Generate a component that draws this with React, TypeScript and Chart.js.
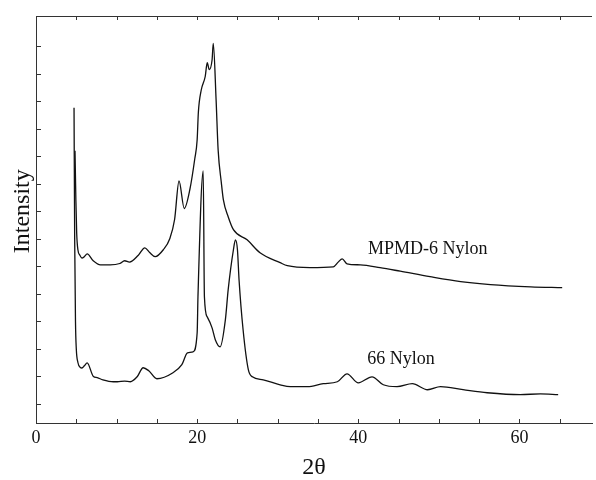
import React, { useEffect, useRef } from "react";
import { Chart, registerables } from "chart.js";

Chart.register(...registerables);

// 2θ (degrees) / intensity (arbitrary units)
const mpmdX = [4.84, 4.95, 5.05, 5.2, 5.45, 5.7, 6.0, 6.35, 7.1, 8.0, 9.2, 10.4, 11.0, 11.6, 12.7, 13.5, 14.1, 14.8, 15.8, 16.6, 17.2, 17.75, 18.4, 19.1, 19.7, 20.0, 20.15, 20.5, 21.0, 21.25, 21.5, 21.85, 22.0, 22.35, 22.6, 23.0, 23.25, 23.85, 24.5, 26.2, 27.8, 30.3, 31.2, 34.0, 36.9, 37.5, 38.0, 38.6, 40.25, 42.7, 45.2, 48.9, 52.7, 56.4, 61.4, 65.3];
const mpmdY = [9.2, 7.4, 6.2, 5.6, 5.4, 5.3, 5.35, 5.45, 5.2, 5.05, 5.05, 5.1, 5.2, 5.15, 5.4, 5.67, 5.5, 5.35, 5.6, 6.0, 6.7, 8.1, 7.1, 7.8, 8.9, 9.6, 10.6, 11.4, 11.9, 12.4, 12.15, 12.5, 13.1, 11.05, 9.24, 8.04, 7.42, 6.8, 6.33, 5.96, 5.49, 5.13, 5.02, 4.95, 4.98, 5.15, 5.27, 5.09, 5.05, 4.95, 4.82, 4.62, 4.44, 4.33, 4.25, 4.22];

const nylon66X = [4.72, 4.8, 4.9, 5.0, 5.2, 5.5, 5.7, 6.0, 6.35, 7.1, 7.6, 8.3, 9.6, 10.1, 11.0, 11.7, 12.55, 13.3, 14.0, 15.0, 17.0, 18.1, 18.8, 19.5, 20.0, 20.1, 20.75, 20.9, 21.25, 21.85, 22.25, 22.85, 23.5, 23.85, 24.5, 24.75, 25.0, 25.2, 25.7, 26.35, 26.85, 28.2, 30.3, 31.55, 33.7, 35.65, 37.4, 38.6, 40.0, 41.7, 43.1, 44.8, 46.7, 48.6, 50.2, 53.0, 56.0, 60.1, 62.6, 64.8];
const nylon66Y = [10.76, 6.0, 3.0, 2.0, 1.5, 1.32, 1.3, 1.38, 1.49, 1.0, 0.95, 0.87, 0.8, 0.8, 0.82, 0.8, 0.98, 1.31, 1.2, 0.91, 1.13, 1.42, 1.85, 1.89, 2.58, 3.89, 8.47, 3.89, 3.16, 2.76, 2.33, 2.07, 3.05, 4.15, 5.6, 5.96, 5.6, 4.5, 2.69, 1.24, 0.98, 0.87, 0.69, 0.62, 0.62, 0.73, 0.8, 1.09, 0.76, 0.98, 0.69, 0.62, 0.73, 0.51, 0.62, 0.51, 0.4, 0.33, 0.36, 0.33];

const seriesNames = ["MPMD-6 Nylon", "66 Nylon"];
const xTickValues = [0, 5, 10, 15, 20, 25, 30, 35, 40, 45, 50, 55, 60, 65];
const xTickLabels = [0, 20, 40, 60];
const yTickValues = [0, 1, 2, 3, 4, 5, 6, 7, 8, 9, 10, 11, 12, 13];
const yTitle = "Intensity";

const SERIF = '"Liberation Serif", "DejaVu Serif", serif';

const toPoints = (xs: number[], ys: number[]) => xs.map((x, i) => ({ x, y: ys[i] }));

const framePlugin = {
  id: "frame",
  afterDatasetsDraw(chart: any) {
    const { ctx, chartArea, scales } = chart;
    const { left, right, top, bottom } = chartArea;
    const xs = scales.x;
    const ys = scales.y;
    ctx.save();
    ctx.strokeStyle = "#333";
    ctx.lineWidth = 1;
    ctx.beginPath();
    ctx.moveTo(left, top + 0.5);
    ctx.lineTo(right, top + 0.5);
    xs.ticks.forEach((t: any) => {
      const px = Math.round(xs.getPixelForValue(t.value)) + 0.5;
      ctx.moveTo(px, bottom);
      ctx.lineTo(px, bottom - 4);
      ctx.moveTo(px, top);
      ctx.lineTo(px, top + 4);
    });
    ys.ticks.forEach((t: any) => {
      const py = Math.round(ys.getPixelForValue(t.value)) + 0.5;
      ctx.moveTo(left, py);
      ctx.lineTo(left + 5, py);
    });
    ctx.stroke();

    // series annotations
    ctx.fillStyle = "#111";
    ctx.font = `18px ${SERIF}`;
    ctx.textAlign = "left";
    ctx.textBaseline = "alphabetic";
    ctx.fillText(seriesNames[0], xs.getPixelForValue(41.2), ys.getPixelForValue(5.45));
    ctx.fillText(seriesNames[1], xs.getPixelForValue(41.1), ys.getPixelForValue(1.45));

    // y axis title
    ctx.save();
    ctx.translate(23, ys.getPixelForValue(7.0));
    ctx.rotate(-Math.PI / 2);
    ctx.font = `24px ${SERIF}`;
    ctx.textAlign = "center";
    ctx.textBaseline = "middle";
    ctx.fillText(yTitle, 0, 0);
    ctx.restore();
    ctx.restore();
  },
};

export default function App() {
  const canvasRef = useRef<HTMLCanvasElement | null>(null);

  useEffect(() => {
    if (!canvasRef.current) return;
    const lineStyle = {
      borderColor: "#111",
      borderWidth: 1.3,
      pointRadius: 0,
      fill: false,
      cubicInterpolationMode: "monotone" as const,
    };
    const chart = new Chart(canvasRef.current, {
      type: "line",
      data: {
        datasets: [
          { label: seriesNames[0], data: toPoints(mpmdX, mpmdY), ...lineStyle },
          { label: seriesNames[1], data: toPoints(nylon66X, nylon66Y), ...lineStyle },
        ],
      },
      options: {
        animation: false,
        responsive: true,
        maintainAspectRatio: false,
        layout: { padding: { top: 16, right: 4, left: 0, bottom: 0 } },
        plugins: { legend: { display: false }, tooltip: { enabled: false } },
        scales: {
          x: {
            type: "linear",
            min: 0,
            max: 69,
            afterBuildTicks: (scale: any) => {
              scale.ticks = xTickValues.map((v) => ({ value: v }));
            },
            afterFit: (scale: any) => {
              scale.height = 57;
            },
            grid: { display: false, drawTicks: false },
            border: { display: true, color: "#333", width: 1 },
            ticks: {
              color: "#111",
              padding: 4,
              maxRotation: 0,
              autoSkip: false,
              font: { family: SERIF, size: 18 },
              callback: (v: any) => (xTickLabels.includes(Number(v)) ? String(v) : ""),
            },
            title: {
              display: true,
              text: "2θ",
              color: "#111",
              font: { family: SERIF, size: 24, lineHeight: 1 },
              padding: { top: 0, bottom: 0 },
            },
          },
          y: {
            type: "linear",
            min: -0.7,
            max: 14.1,
            afterBuildTicks: (scale: any) => {
              scale.ticks = yTickValues.map((v) => ({ value: v }));
            },
            afterFit: (scale: any) => {
              scale.width = 36;
            },
            grid: { display: false, drawTicks: false },
            border: { display: true, color: "#333", width: 1 },
            ticks: { display: false },
            title: { display: false },
          },
        },
      },
      plugins: [framePlugin],
    });
    return () => chart.destroy();
  }, []);

  return (
    <div style={{ position: "absolute", left: 0, top: 0, width: 596, height: 480, background: "#fff" }}>
      <canvas ref={canvasRef} />
    </div>
  );
}
